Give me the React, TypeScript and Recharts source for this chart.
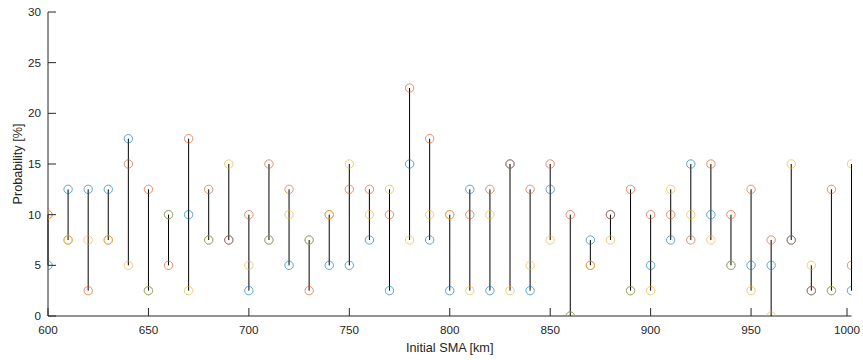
import React from "react";
import {
  ComposedChart,
  Scatter,
  XAxis,
  YAxis,
  ReferenceLine,
  Label,
} from "recharts";

// initial semi-major axis of each run [km]
const sma = [
  600, 610, 620, 630, 640, 650, 660, 670, 680, 690, 700, 710, 720, 730, 740,
  750, 760, 770, 780, 790, 800, 810, 820, 830, 840, 850, 860, 870, 880, 890,
  900, 910, 920, 930, 940, 950, 960, 970, 980, 990, 1000,
];

// probability [%] for the three cases
const probA = [
  5, 12.5, 12.5, 12.5, 17.5, 2.5, 10, 10, 7.5, 7.5, 2.5, 7.5, 5, 7.5, 5, 5,
  7.5, 2.5, 15, 7.5, 2.5, 12.5, 2.5, 15, 2.5, 12.5, 0, 7.5, 10, 2.5, 5, 7.5,
  15, 10, 5, 5, 5, 7.5, 2.5, 2.5, 2.5,
];
const probB = [
  10, 7.5, 2.5, 7.5, 15, 12.5, 5, 17.5, 12.5, 7.5, 10, 15, 12.5, 2.5, 10,
  12.5, 12.5, 10, 22.5, 17.5, 10, 10, 12.5, 15, 12.5, 15, 10, 5, 10, 12.5, 10,
  10, 7.5, 15, 10, 12.5, 7.5, 7.5, 2.5, 12.5, 5,
];
const probC = [
  10, 7.5, 7.5, 7.5, 5, 2.5, 10, 2.5, 7.5, 15, 5, 7.5, 10, 7.5, 10, 15, 10,
  12.5, 7.5, 10, 10, 2.5, 10, 2.5, 5, 7.5, 0, 5, 7.5, 2.5, 2.5, 12.5, 10, 7.5,
  5, 2.5, 0, 15, 5, 2.5, 15,
];

const xTicks = [600, 650, 700, 750, 800, 850, 900, 950, 1000];
const yTicks = [0, 5, 10, 15, 20, 25, 30];

const axisColor = "#262626";
const font = "'Liberation Sans', Arial, Helvetica, sans-serif";

const series = [
  { name: "A", values: probA, color: "#0072BD" },
  { name: "B", values: probB, color: "#D95319" },
  { name: "C", values: probC, color: "#EDB120" },
];

const ranges = sma.map((x, i) => {
  const vals = [probA[i], probB[i], probC[i]];
  return { x, lo: Math.min(...vals), hi: Math.max(...vals) };
});

const XTick = (props: any) => {
  const { x, y, payload } = props;
  return (
    <g>
      <line x1={x} x2={x} y1={y} y2={y - 8} stroke={axisColor} />
      <text
        x={x}
        y={y + 18}
        textAnchor="middle"
        fill={axisColor}
        fontSize={11.7}
        fontFamily={font}
      >
        {payload.value}
      </text>
    </g>
  );
};

const YTick = (props: any) => {
  const { x, y, payload } = props;
  return (
    <g>
      <line x1={x} x2={x + 8} y1={y} y2={y} stroke={axisColor} />
      <text
        x={x - 7}
        y={y + 4}
        textAnchor="end"
        fill={axisColor}
        fontSize={11.7}
        fontFamily={font}
      >
        {payload.value}
      </text>
    </g>
  );
};

const YTitle = (props: any) => {
  const vb = props.viewBox || {};
  const cy = (vb.y ?? 12) + (vb.height ?? 304) / 2;
  return (
    <text
      x={22}
      y={cy}
      transform={`rotate(-90, 22, ${cy})`}
      textAnchor="middle"
      fill={axisColor}
      fontSize={12.7}
      fontFamily={font}
    >
      Probability [%]
    </text>
  );
};

// hollow circle marker
const ring = (color: string) => (p: any) =>
  (
    <circle
      cx={p.cx}
      cy={p.cy}
      r={4.2}
      fill="none"
      stroke={color}
      strokeOpacity={0.7}
      strokeWidth={0.9}
    />
  );

export default function App() {
  return (
    <div style={{ width: 863, height: 360, background: "#fff" }}>
      <style>{`body{margin:0}`}</style>
      <ComposedChart
        width={863}
        height={360}
        margin={{ top: 12, right: 11.5, bottom: 4, left: 8 }}
      >
        <XAxis
          type="number"
          dataKey="x"
          domain={[600, 1000]}
          ticks={xTicks}
          height={40}
          tickSize={0}
          tickMargin={0}
          tickLine={false}
          tick={<XTick />}
          stroke={axisColor}
          allowDataOverflow
        >
          <Label
            value="Initial SMA [km]"
            position="insideBottom"
            offset={4}
            fill={axisColor}
            fontSize={12.7}
            fontFamily={font}
          />
        </XAxis>
        <YAxis
          type="number"
          dataKey="y"
          domain={[0, 30]}
          ticks={yTicks}
          width={40}
          tickSize={0}
          tickMargin={0}
          tickLine={false}
          tick={<YTick />}
          stroke={axisColor}
          allowDataOverflow
        >
          <Label content={<YTitle />} />
        </YAxis>
        {ranges.map((r) => (
          <ReferenceLine
            key={r.x}
            segment={[
              { x: r.x, y: r.lo },
              { x: r.x, y: r.hi },
            ]}
            stroke="#000"
            strokeWidth={1}
          />
        ))}
        {series.map((s) => (
          <Scatter
            key={s.name}
            name={s.name}
            data={sma.map((x, i) => ({ x, y: s.values[i] }))}
            shape={ring(s.color)}
            isAnimationActive={false}
          />
        ))}
      </ComposedChart>
    </div>
  );
}
